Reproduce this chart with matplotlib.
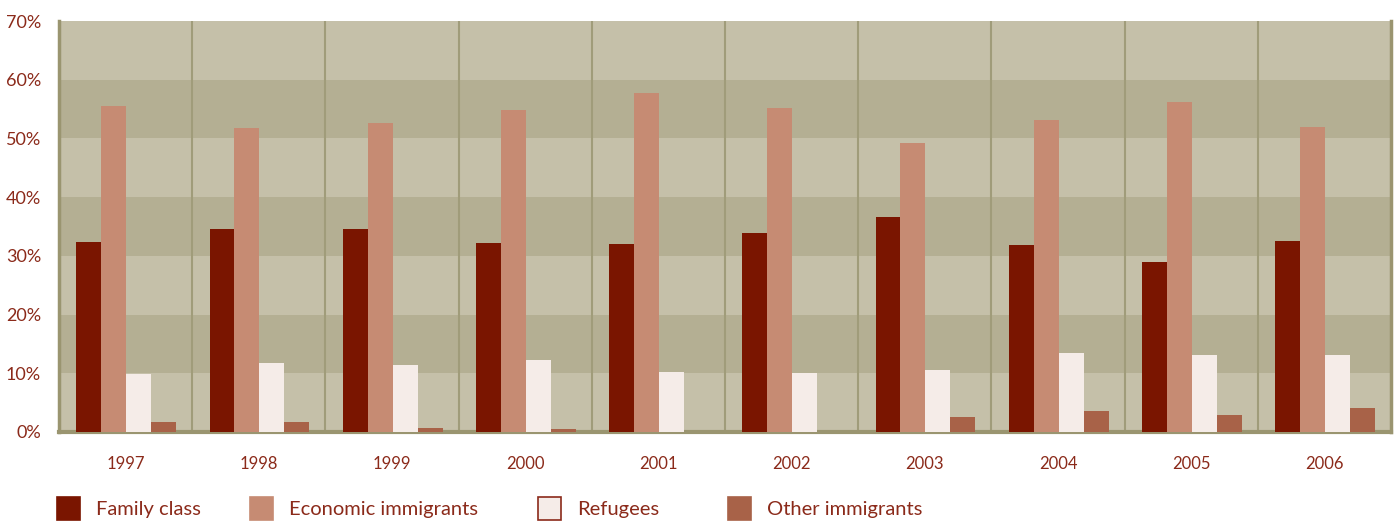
import matplotlib.pyplot as plt
import numpy as np
from matplotlib.patches import Rectangle

years = ['1997', '1998', '1999', '2000', '2001', '2002', '2003', '2004', '2005', '2006']
family = [32.4, 34.6, 34.6, 32.2, 32.0, 33.9, 36.6, 31.9, 29.0, 32.5]
economic = [55.5, 51.8, 52.6, 54.9, 57.8, 55.2, 49.2, 53.2, 56.2, 52.0]
refugees = [9.9, 11.8, 11.4, 12.3, 10.2, 10.0, 10.6, 13.5, 13.1, 13.1]
other = [1.7, 1.7, 0.7, 0.5, 0.0, 0.0, 2.6, 3.6, 2.9, 4.1]
series_names = ['Family class', 'Economic immigrants', 'Refugees', 'Other immigrants']

colors = ['#7a1500', '#c68b73', '#f5ece8', '#a86248']
txt = '#8b2a1a'
light = '#c5c0a9'
dark = '#b4af93'
line = '#a09c7a'

plt.rcParams['font.family'] = ['Lato', 'DejaVu Sans']

W, H = 1396, 521
fig = plt.figure(figsize=(13.96, 5.21), dpi=100)
ax = fig.add_axes([59 / W, 89 / H, 1332 / W, 411 / H])

# background bands
for k in range(7):
    ax.axhspan(k * 10, (k + 1) * 10, color=dark if k % 2 else light, zorder=0, lw=0)

x = np.arange(len(years))
w = 0.1875
start = -0.5 + 0.13
for j, vals in enumerate([family, economic, refugees, other]):
    ax.bar(x + start + j * w, vals, width=w, align='edge', color=colors[j], zorder=3, lw=0)

for k in range(1, len(years)):
    ax.axvline(k - 0.5, color=line, lw=1.5, zorder=1)

ax.set_xlim(-0.5, len(years) - 0.5)
ax.set_ylim(0, 70)
ax.set_xticks(x)
ax.set_xticklabels(years)
ax.set_yticks(range(0, 71, 10))
ax.set_yticklabels([f'{v}%' for v in range(0, 71, 10)])
ax.tick_params(axis='x', length=0, pad=17, labelsize=12, labelcolor=txt)
ax.tick_params(axis='y', length=0, pad=13, labelsize=13, labelcolor=txt)

ax.spines['top'].set_visible(False)
for s in ['left', 'right']:
    ax.spines[s].set_color('#9a9570')
    ax.spines[s].set_linewidth(2.5)
ax.spines['bottom'].set_color('#9a9570')
ax.spines['bottom'].set_linewidth(3)

# legend
leg_x = [57, 250, 538, 728]
for j, name in enumerate(series_names):
    ec = txt if j == 2 else colors[j]
    fig.patches.append(Rectangle((leg_x[j] / W, 1 / H), 23 / W, 23 / H,
                                 transform=fig.transFigure, facecolor=colors[j],
                                 edgecolor=ec, lw=1.2))
    fig.text((leg_x[j] + 39) / W, 12 / H, name, color=txt, fontsize=14.5,
             va='center', ha='left')

fig.savefig('out.png', dpi=100)
